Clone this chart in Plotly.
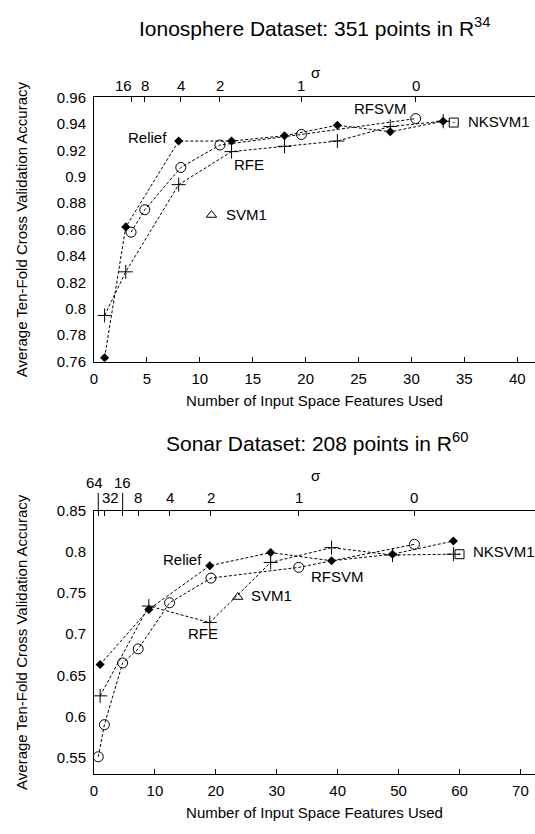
import plotly.graph_objects as go

# ---------------- Data: Ionosphere (top) ----------------
iono_relief_x = [1, 3, 8, 13, 18, 23, 28, 33]
iono_relief_y = [0.763, 0.862, 0.927, 0.927, 0.931, 0.939, 0.934, 0.942]
iono_rfe_x = [1, 3, 8, 13, 18, 23, 28, 33]
iono_rfe_y = [0.795, 0.828, 0.894, 0.919, 0.923, 0.927, 0.938, 0.942]
iono_rfsvm_x = [3.5, 4.8, 8.2, 11.9, 19.6, 30.4]
iono_rfsvm_y = [0.858, 0.875, 0.907, 0.924, 0.932, 0.944]
iono_sigma_labels = ["16", "8", "4", "2", "1", "0"]
iono_svm1_x = [11.1]
iono_svm1_y = [0.871]
iono_nksvm1_x = [34]
iono_nksvm1_y = [0.941]
iono_xticks = [0, 5, 10, 15, 20, 25, 30, 35, 40]

# ---------------- Data: Sonar (bottom) ----------------
sonar_relief_x = [1, 9, 19, 29, 39, 49, 59]
sonar_relief_y = [0.663, 0.730, 0.783, 0.799, 0.789, 0.797, 0.813]
sonar_rfe_x = [1, 9, 19, 29, 39, 49, 59]
sonar_rfe_y = [0.625, 0.734, 0.714, 0.787, 0.805, 0.796, 0.797]
sonar_rfsvm_x = [0.7, 1.7, 4.7, 7.25, 12.4, 19.2, 33.6, 52.6]
sonar_rfsvm_y = [0.551, 0.590, 0.665, 0.682, 0.738, 0.768, 0.781, 0.809]
sonar_sigma_labels = ["64", "32", "16", "8", "4", "2", "1", "0"]
sonar_svm1_x = [23.6]
sonar_svm1_y = [0.745]
sonar_nksvm1_x = [60]
sonar_nksvm1_y = [0.797]
sonar_xticks = [0, 10, 20, 30, 40, 50, 60, 70]

# ---------------- Styles ----------------
FONT = "Liberation Sans, Arial, Helvetica, sans-serif"
FS = 15
W, H = 535, 834
LINE = dict(color="black", width=1, dash="3px,2px")

iono_sigma_shift = [-8, 0, 0, 0, 0, 0]
iono_sigma_raise = [False] * 6
sonar_sigma_shift = [-4, 6, 0, 0, 0, 0, 0, 0]
sonar_sigma_raise = [True, False, True, False, False, False, False, False]

def py(px):
    return 1 - px / H

fig = go.Figure()

def add_panel(xa, ya, rel_x, rel_y, rfe_x, rfe_y, rfs_x, rfs_y, s1x, s1y, nkx, nky):
    fig.add_trace(go.Scatter(x=rel_x, y=rel_y, mode="lines+markers", line=LINE,
                             marker=dict(symbol="diamond", size=7, color="black"),
                             xaxis=xa, yaxis=ya, name="Relief"))
    fig.add_trace(go.Scatter(x=rfe_x, y=rfe_y, mode="lines+markers", line=LINE,
                             marker=dict(symbol="cross-thin", size=10, color="black",
                                         line=dict(color="black", width=1)),
                             xaxis=xa, yaxis=ya, name="RFE"))
    fig.add_trace(go.Scatter(x=rfs_x, y=rfs_y, mode="lines+markers", line=LINE,
                             marker=dict(symbol="circle-open", size=10, color="black",
                                         line=dict(color="black", width=1)),
                             xaxis=xa, yaxis=ya, name="RFSVM"))
    fig.add_trace(go.Scatter(x=s1x, y=s1y, mode="markers",
                             marker=dict(symbol="triangle-up-open", size=9, color="black",
                                         line=dict(color="black", width=1)),
                             xaxis=xa, yaxis=ya, name="SVM1"))
    fig.add_trace(go.Scatter(x=nkx, y=nky, mode="markers",
                             marker=dict(symbol="square-open-dot", size=9, color="black",
                                         line=dict(color="black", width=1)),
                             xaxis=xa, yaxis=ya, name="NKSVM1"))

add_panel("x", "y", iono_relief_x, iono_relief_y, iono_rfe_x, iono_rfe_y,
          iono_rfsvm_x, iono_rfsvm_y, iono_svm1_x, iono_svm1_y, iono_nksvm1_x, iono_nksvm1_y)
add_panel("x2", "y2", sonar_relief_x, sonar_relief_y, sonar_rfe_x, sonar_rfe_y,
          sonar_rfsvm_x, sonar_rfsvm_y, sonar_svm1_x, sonar_svm1_y, sonar_nksvm1_x, sonar_nksvm1_y)

xdom = [90.7 / W, 1.0]
top_dom = [py(360), py(90.3)]
bot_dom = [py(781), py(512)]

axis_common = dict(showline=True, linecolor="black", linewidth=1, mirror=False,
                   showgrid=False, zeroline=False, tickfont=dict(family=FONT, size=FS, color="black"))

ytitle = "Average Ten-Fold Cross Validation Accuracy"
xtitle = "Number of Input Space Features Used"

fig.update_layout(
    width=W, height=H, margin=dict(l=0, r=0, t=0, b=0, pad=0),
    paper_bgcolor="white", plot_bgcolor="white", showlegend=False,
    font=dict(family=FONT, size=FS, color="black"),
    xaxis=dict(domain=xdom, anchor="y", range=[0, (W - 90.7) / 10.66],
               tickmode="array", tickvals=iono_xticks, ticks="inside", ticklen=5,
               tickcolor="black", ticklabelstandoff=3,
               title=dict(text=xtitle, font=dict(family=FONT, size=FS), standoff=9),
               **axis_common),
    yaxis=dict(domain=top_dom, anchor="x", range=[0.76, 0.96], tick0=0, dtick=0.02,
               ticks="", ticklabelstandoff=4,
               title=dict(text=ytitle, font=dict(family=FONT, size=FS), standoff=25),
               **axis_common),
    xaxis3=dict(overlaying="x", anchor="y", side="top", range=[0, (W - 90.7) / 10.66],
                tickmode="array", tickvals=iono_rfsvm_x, ticks="inside", ticklen=5,
                tickcolor="black", showticklabels=False, **axis_common),
    xaxis2=dict(domain=xdom, anchor="y2", range=[0, (W - 90.5) / 6.14],
                tickmode="array", tickvals=sonar_xticks, ticks="inside", ticklen=5,
                tickcolor="black", ticklabelstandoff=3,
                title=dict(text=xtitle, font=dict(family=FONT, size=FS), standoff=9),
                **axis_common),
    yaxis2=dict(domain=bot_dom, anchor="x2", range=[0.53, 0.85], tick0=0, dtick=0.05,
                ticks="", ticklabelstandoff=4,
                title=dict(text=ytitle, font=dict(family=FONT, size=FS), standoff=25),
                **axis_common),
    xaxis4=dict(overlaying="x2", anchor="y2", side="top", range=[0, (W - 90.5) / 6.14],
                tickmode="array", tickvals=sonar_rfsvm_x, ticks="inside", ticklen=5,
                tickcolor="black", showticklabels=False, **axis_common),
)

ann = []
ann.append(dict(text="Ionosphere Dataset: 351 points in R<sup>34</sup>", x=313 / W, y=py(18),
                xref="paper", yref="paper", showarrow=False, font=dict(size=21),
                xanchor="center", yanchor="middle"))
ann.append(dict(text="Sonar Dataset: 208 points in R<sup>60</sup>", x=315 / W, y=py(442),
                xref="paper", yref="paper", showarrow=False, font=dict(size=21),
                xanchor="center", yanchor="middle"))
ann.append(dict(text="σ", x=314 / W, y=py(65), xref="paper", yref="paper", showarrow=False,
                xanchor="center", yanchor="middle"))
ann.append(dict(text="σ", x=314 / W, y=py(476), xref="paper", yref="paper", showarrow=False,
                xanchor="center", yanchor="middle"))
for xv, lab, sh, up in zip(iono_rfsvm_x, iono_sigma_labels, iono_sigma_shift, iono_sigma_raise):
    ann.append(dict(text=lab, x=xv, xref="x3", y=py(78), yref="paper", xshift=sh,
                    showarrow=False, xanchor="center", yanchor="middle"))
for xv, lab, sh, up in zip(sonar_rfsvm_x, sonar_sigma_labels, sonar_sigma_shift, sonar_sigma_raise):
    ann.append(dict(text=lab, x=xv, xref="x4", y=py(483.6 if up else 499), yref="paper",
                    xshift=sh, showarrow=False, xanchor="center", yanchor="middle"))

ann += [
    dict(text="Relief", x=7.13, y=0.930, xref="x", yref="y", xanchor="right"),
    dict(text="RFE", x=13.07, y=0.9089, xref="x", yref="y", xanchor="left"),
    dict(text="SVM1", x=12.29, y=0.8713, xref="x", yref="y", xanchor="left"),
    dict(text="RFSVM", x=29.77, y=0.9513, xref="x", yref="y", xanchor="right"),
    dict(text="NKSVM1", x=35.2, y=0.9417, xref="x", yref="y", xanchor="left"),
    dict(text="Relief", x=18.11, y=0.7907, xref="x2", yref="y2", xanchor="right"),
    dict(text="SVM1", x=25.44, y=0.747, xref="x2", yref="y2", xanchor="left"),
    dict(text="RFE", x=17.83, y=0.7012, xref="x2", yref="y2", xanchor="center"),
    dict(text="RFSVM", x=35.3, y=0.7697, xref="x2", yref="y2", xanchor="left"),
    dict(text="NKSVM1", x=61.9, y=0.8007, xref="x2", yref="y2", xanchor="left"),
]
for a in ann:
    a.setdefault("showarrow", False)
    a.setdefault("yanchor", "middle")
    a.setdefault("font", dict(size=FS))
fig.update_layout(annotations=ann)

# leader lines for the raised sigma labels (bottom panel)
for xv, up in zip(sonar_rfsvm_x, sonar_sigma_raise):
    if up:
        fig.add_shape(type="line", xref="x4", yref="paper", x0=xv, x1=xv,
                      y0=bot_dom[1], y1=py(494), line=dict(color="black", width=1))

fig.write_html("out.html", config={"displayModeBar": False},
               post_script="document.body.style.margin='0';document.body.style.padding='0';")
